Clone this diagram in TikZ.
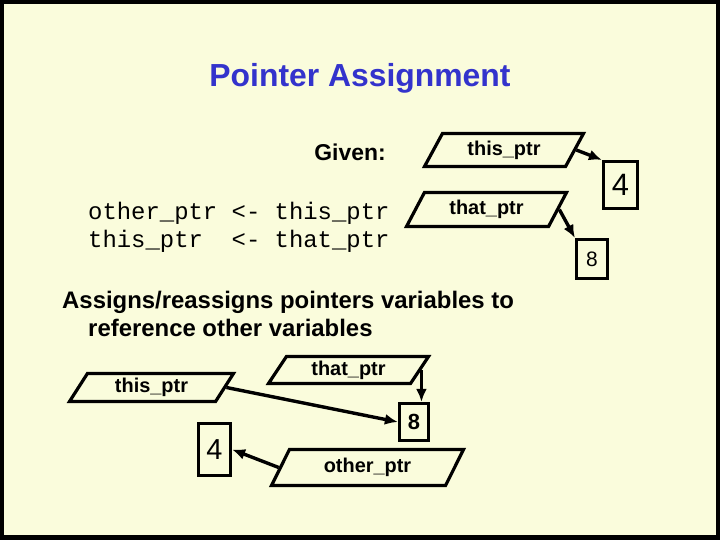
\documentclass[tikz,border=0pt]{standalone}
\usepackage{fontspec}
\setmainfont{Liberation Sans}
\setmonofont{Liberation Mono}
\usepackage{xcolor}
\usetikzlibrary{shapes.geometric,arrows.meta}
\definecolor{slideyellow}{HTML}{FAFCDC}
\definecolor{titleblue}{HTML}{3333CC}

\begin{document}
\begin{tikzpicture}[x=1bp, y=-1bp,
    ptrbox/.style={draw, line width=3.2bp, trapezium, trapezium left angle=46, trapezium right angle=134,
      trapezium stretches body, inner sep=0pt, font=\fontsize{20}{23}\selectfont\bfseries},
    valbox/.style={draw, line width=3.2bp, rectangle, inner sep=0pt},
    ptrarrow/.style={line width=3.4bp, -{Latex[length=13bp,width=11bp]}}]
      \fill[black] (0,0) rectangle (720,540);
      \fill[slideyellow] (4,4) rectangle (716,535);
      \useasboundingbox (0,0) rectangle (720,540);
      \node[titleblue, font=\fontsize{32}{36}\selectfont\bfseries] (title) at (360,78) {Pointer Assignment};
      \node[font=\fontsize{23}{27}\selectfont\bfseries] (given) at (350,152) {Given:};
      \node[anchor=west, align=left, inner sep=0pt, font=\fontsize{24}{28}\ttfamily] (code) at (88,227)
        {other\_ptr <- this\_ptr\\this\_ptr\ \ <- that\_ptr};
      \node[anchor=west, align=left, inner sep=0pt, font=\fontsize{24}{29}\selectfont\bfseries] (desc) at (62,314)
        {Assigns/reassigns pointers variables to\\\hspace*{26bp}reference other variables};
      \node[ptrbox, minimum width=159bp, minimum height=33bp] (thisA) at (504,150) {this\_ptr};
      \node[ptrbox, minimum width=160bp, minimum height=34bp] (thatA) at (486.5,209.5) {that\_ptr};
      \node[valbox, minimum width=34bp, minimum height=47bp, font=\fontsize{31}{34}\selectfont] (fourA) at (620.5,185) {4};
      \node[valbox, minimum width=31bp, minimum height=39bp, font=\fontsize{21}{24}\selectfont] (eightA) at (592,259) {8};
      \node[ptrbox, minimum width=164bp, minimum height=28bp] (thisB) at (151.5,387.5) {this\_ptr};
      \node[ptrbox, minimum width=160bp, minimum height=27bp] (thatB) at (348.5,370) {that\_ptr};
      \node[valbox, minimum width=29bp, minimum height=37bp, font=\fontsize{22}{25}\selectfont\bfseries] (eightB) at (414,422) {8};
      \node[valbox, minimum width=32bp, minimum height=52bp, font=\fontsize{29}{32}\selectfont] (fourB) at (214.5,449.5) {4};
      \node[ptrbox, minimum width=192bp, minimum height=36bp] (otherB) at (367.5,467.5) {other\_ptr};
      \draw[ptrarrow] (thisA.east) -- (fourA.north west);
      \draw[ptrarrow] (thatA.east) -- (eightA.north west);
      \draw[ptrarrow] (thisB.east) -- (eightB.west);
      \draw[ptrarrow] (thatB.east) -- (thatB.east |- eightB.north);
      \draw[ptrarrow] (otherB.west) -- (fourB.east);
    \end{tikzpicture}
\end{document}
